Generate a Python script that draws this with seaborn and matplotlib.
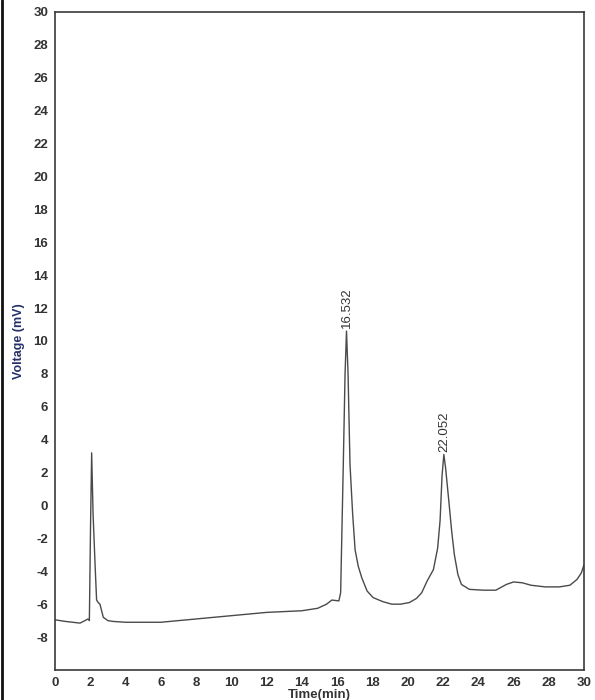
import matplotlib
matplotlib.use("Agg")
import matplotlib.pyplot as plt
import seaborn as sns
import pandas as pd
from matplotlib.lines import Line2D

# ---- data ----
time_min = [0.0, 0.6, 1.0, 1.42, 1.7, 1.87, 1.95, 2.02, 2.08, 2.16, 2.27, 2.36,
            2.45, 2.55, 2.74, 3.0, 3.3, 4.0, 5.0, 6.0, 7.0, 8.0, 9.0, 10.0,
            11.0, 12.0, 13.0, 14.0, 14.9, 15.4, 15.7, 16.1, 16.2, 16.35, 16.45,
            16.532, 16.62, 16.73, 16.88, 17.02, 17.2, 17.4, 17.7, 18.04, 18.6,
            19.1, 19.6, 20.1, 20.5, 20.8, 21.1, 21.46, 21.7, 21.84, 21.95,
            22.052, 22.15, 22.35, 22.5, 22.65, 22.85, 23.05, 23.5, 24.3, 25.0,
            25.6, 26.0, 26.5, 27.0, 27.8, 28.6, 29.2, 29.6, 29.85, 30.0]
voltage_mv = [-6.95, -7.05, -7.1, -7.15, -7.0, -6.9, -7.0, -1.0, 3.2, -0.5,
              -3.5, -5.75, -5.9, -6.0, -6.8, -7.0, -7.05, -7.1, -7.1, -7.1,
              -7.0, -6.9, -6.8, -6.7, -6.6, -6.5, -6.45, -6.4, -6.25, -6.0,
              -5.75, -5.8, -5.3, 2.5, 8.0, 10.6, 8.0, 2.5, -0.5, -2.7, -3.7,
              -4.4, -5.2, -5.6, -5.85, -6.0, -6.0, -5.9, -5.65, -5.3, -4.6,
              -3.9, -2.6, -0.9, 1.8, 3.1, 2.3, 0.1, -1.6, -3.0, -4.2, -4.8,
              -5.1, -5.15, -5.15, -4.8, -4.65, -4.7, -4.85, -4.95, -4.95,
              -4.85, -4.5, -4.1, -3.6]

peak_times = [16.532, 22.052]
peak_heights = [10.6, 3.1]
peak_labels = ["16.532", "22.052"]

x_ticks = list(range(0, 31, 2))
y_ticks = list(range(-8, 31, 2))

df = pd.DataFrame({"Time(min)": time_min, "Voltage (mV)": voltage_mv})

sns.set_theme(style="white")
plt.rcParams["font.family"] = ["Liberation Sans", "DejaVu Sans"]
plt.rcParams["axes.unicode_minus"] = False

fig = plt.figure(figsize=(5.95, 7.0), dpi=100)
ax = fig.add_axes([0.0924, 0.0429, 0.8891, 0.94])

sns.lineplot(data=df, x="Time(min)", y="Voltage (mV)", ax=ax,
             color="#4a4a4a", linewidth=1.0, estimator=None, sort=False)

for t, h, lab in zip(peak_times, peak_heights, peak_labels):
    ax.annotate(lab, xy=(t, h), xytext=(0, 2), textcoords="offset points",
                rotation=90, ha="center", va="bottom", fontsize=9.5,
                color="#333333")

ax.set_xlim(0, 30)
ax.set_ylim(-10, 30)
ax.set_xticks(x_ticks)
ax.set_yticks(y_ticks)
ax.tick_params(axis="both", direction="out", length=3, width=1, color="#333333",
               labelsize=9.5, labelcolor="#333333", pad=2)
for lab in ax.get_xticklabels() + ax.get_yticklabels():
    lab.set_fontweight("bold")

for sp in ax.spines.values():
    sp.set_visible(True)
    sp.set_color("#3a3a3a")
    sp.set_linewidth(1.2)

ax.set_xlabel("Time(min)", fontsize=9.5, fontweight="bold", color="#333333", labelpad=0)
ax.set_ylabel("Voltage (mV)", fontsize=9, fontweight="bold", color="#26306a", labelpad=6)

# scan border line at the left edge
fig.add_artist(Line2D([0.004, 0.004], [0, 1], transform=fig.transFigure,
                      color="#111111", linewidth=2))

fig.savefig("out.png", dpi=100)
